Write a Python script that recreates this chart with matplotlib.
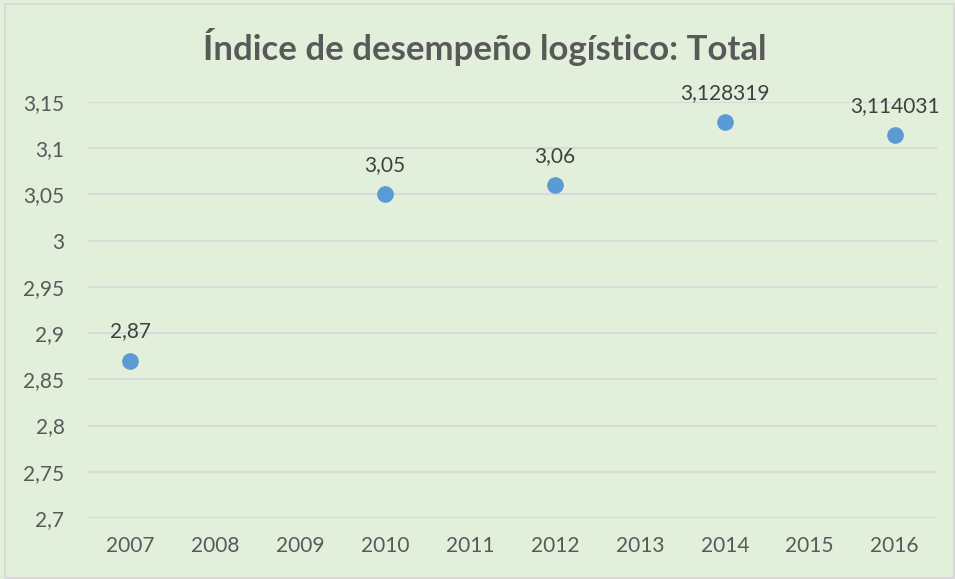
import math

import matplotlib.pyplot as plt
from matplotlib.patches import Rectangle

# datos
anios = ["2007", "2008", "2009", "2010", "2011", "2012", "2013", "2014", "2015", "2016"]
valores = [2.87, None, None, 3.05, None, 3.06, None, 3.128319, None, 3.114031]
etiquetas = ["2,87", "", "", "3,05", "", "3,06", "", "3,128319", "", "3,114031"]
ticks_y = [2.7, 2.75, 2.8, 2.85, 2.9, 2.95, 3.0, 3.05, 3.1, 3.15]

FONDO = "#E2EFDA"
GRIS_TXT = "#595959"
AZUL = "#5B9BD5"
plt.rcParams["font.family"] = ["Lato", "DejaVu Sans"]


def _coma(v: float) -> str:
    return f"{v:g}".replace(".", ",")


def main() -> None:
    fig = plt.figure(figsize=(9.55, 5.79), dpi=100)
    fig.patch.set_facecolor(FONDO)
    fig.patches.append(
        Rectangle((5 / 955, 0.002), 1 - 6 / 955, 1 - 4 / 579 - 0.002,
                  transform=fig.transFigure, fill=False,
                  edgecolor="#D9D9D9", linewidth=1.5)
    )

    ax = fig.add_axes([88 / 955, 1 - 518 / 579, (937 - 88) / 955, (518 - 102) / 579])
    ax.set_facecolor(FONDO)

    ys = [math.nan if v is None else v for v in valores]
    ax.plot(anios, ys, "o", linestyle="none", color=AZUL, markersize=11, zorder=3)

    for anio, v, txt in zip(anios, valores, etiquetas):
        if v is None:
            continue
        ax.annotate(txt, (anio, v), xytext=(0, 14), textcoords="offset points",
                    ha="center", va="bottom", fontsize=15, color="#404040",
                    annotation_clip=False)

    ax.set_xlim(-0.5, len(anios) - 0.5)
    ax.set_ylim(2.7, 3.15)
    ax.set_yticks(ticks_y)
    ax.set_yticklabels([_coma(t) for t in ticks_y])
    ax.grid(axis="y", color="#D9D9D9", linewidth=1.5)
    ax.set_axisbelow(True)
    for s in ax.spines.values():
        s.set_visible(False)
    ax.tick_params(axis="both", length=0, labelsize=15, labelcolor=GRIS_TXT)
    ax.tick_params(axis="y", pad=17)
    ax.tick_params(axis="x", pad=13)

    fig.text(485 / 955, 1 - 47 / 579, "Índice de desempeño logístico: Total",
             ha="center", va="center", fontsize=25, fontweight="bold", color=GRIS_TXT)

    fig.savefig("out.png", dpi=100, facecolor=FONDO)
    plt.close(fig)


if __name__ == "__main__":
    main()
